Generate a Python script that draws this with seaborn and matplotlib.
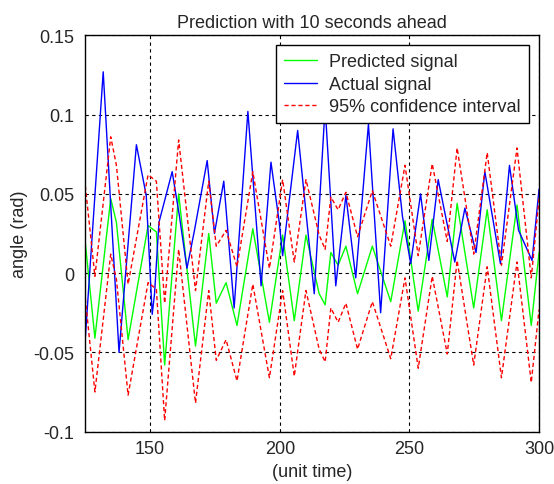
import matplotlib
matplotlib.use("Agg")
import matplotlib.pyplot as plt
import seaborn as sns

# values (peaks / troughs)
actual_t = [125, 131.9, 138, 144.7, 148.5, 150.8, 151.7, 153.4, 158.5, 161.3, 164.2, 167.1,
            172, 174.8, 178.4, 182.4, 187.7, 192.8, 196.6, 199.8, 201.1, 206.9, 213.3, 217.5,
            221.6, 225.5, 229.3, 234.2, 238.9, 243.7, 247.3, 250.5, 254.3, 257.5, 261.1, 267.5,
            271.4, 275.7, 279.1, 285.1, 288.6, 292.1, 297.3, 300]
actual = [-0.041, 0.127, -0.050, 0.081, 0.049, -0.026, -0.013, 0.032, 0.064, 0.036, 0.003, 0.027,
          0.071, 0.025, 0.058, -0.022, 0.102, -0.008, 0.070, 0.032, 0.011, 0.090, -0.013, 0.105,
          -0.008, 0.049, -0.003, 0.094, -0.025, 0.091, 0.036, 0.006, 0.050, 0.008, 0.059, 0.007,
          0.041, 0.013, 0.064, 0.006, 0.068, 0.027, 0.008, 0.053]

pred_t = [125, 128.7, 134.8, 137, 141.5, 149.2, 152.4, 155.6, 161, 167.5, 172.6, 175.5, 179.3,
          183.5, 189.6, 196, 201.1, 205.6, 210.1, 215.2, 217.5, 219.7, 222.5, 225.5, 230, 235.7,
          242.8, 248.3, 253.4, 258.8, 264.6, 268.4, 274.8, 280, 285.5, 291.5, 297, 300]
predicted = [0.019, -0.041, 0.047, 0.032, -0.042, 0.030, 0.026, -0.058, 0.050, -0.046, 0.025, -0.019,
             -0.006, -0.033, 0.028, -0.031, 0.024, -0.030, 0.024, -0.013, -0.020, 0.013, 0.005, 0.017,
             -0.013, 0.017, -0.018, 0.033, -0.024, 0.034, -0.015, 0.044, -0.022, 0.040, -0.030, 0.043,
             -0.033, 0.013]
ci_upper = [0.055, -0.002, 0.086, 0.068, -0.007, 0.062, 0.058, -0.019, 0.084, -0.011, 0.058, 0.017,
            0.027, 0.004, 0.064, 0.003, 0.059, 0.007, 0.059, 0.024, 0.015, 0.048, 0.040, 0.051,
            0.023, 0.052, 0.017, 0.068, 0.011, 0.069, 0.020, 0.079, 0.012, 0.076, 0.005, 0.079,
            -0.003, 0.047]
ci_lower = [-0.016, -0.075, 0.012, -0.004, -0.077, -0.006, -0.010, -0.093, 0.015, -0.082, -0.011, -0.055,
            -0.042, -0.068, -0.007, -0.066, -0.011, -0.065, -0.011, -0.048, -0.056, -0.022, -0.031, -0.019,
            -0.048, -0.018, -0.054, -0.003, -0.060, -0.002, -0.051, 0.008, -0.058, 0.004, -0.066, 0.007,
            -0.069, -0.023]

xticks = [150, 200, 250, 300]
yticks = [-0.1, -0.05, 0, 0.05, 0.1, 0.15]
ytick_labels = ["-0.1", "-0.05", "0", "0.05", "0.1", "0.15"]

sns.set_style("white")
plt.rcParams["font.family"] = ["Liberation Sans", "DejaVu Sans"]

fig = plt.figure(figsize=(5.54, 4.85), dpi=100)
ax = fig.add_axes([0.154, 0.108, 0.819, 0.817])

sns.lineplot(x=pred_t, y=predicted, color="#00ff00", lw=1.0, label="Predicted signal",
             estimator=None, ax=ax)
sns.lineplot(x=actual_t, y=actual, color="#0000ff", lw=1.0, label="Actual signal",
             estimator=None, ax=ax)
sns.lineplot(x=pred_t, y=ci_upper, color="#ff0000", lw=1.0, linestyle=(0, (3, 2)),
             label="95% confidence interval", estimator=None, ax=ax)
sns.lineplot(x=pred_t, y=ci_lower, color="#ff0000", lw=1.0, linestyle=(0, (3, 2)),
             estimator=None, ax=ax)

ax.set_xlim(125, 300)
ax.set_ylim(-0.1, 0.15)
ax.set_xticks(xticks)
ax.set_yticks(yticks)
ax.set_yticklabels(ytick_labels)
ax.grid(True, color="black", linestyle=(0, (3, 3)), linewidth=0.8)
ax.set_axisbelow(True)
for s in ax.spines.values():
    s.set_color("black")
    s.set_linewidth(1.0)
ax.tick_params(direction="in", length=4, width=0.8, color="black", labelsize=13)
ax.tick_params(axis="y", pad=8)
ax.tick_params(axis="x", pad=6)

ax.set_title("Prediction with 10 seconds ahead", fontsize=13)
ax.set_xlabel("(unit time)", fontsize=13)
ax.set_ylabel("angle (rad)", fontsize=13)

leg = ax.legend(loc="upper right", fontsize=13, frameon=True, fancybox=False,
                edgecolor="black", framealpha=1, borderaxespad=0.55,
                handlelength=1.8, handletextpad=0.7, labelspacing=0.3, borderpad=0.45)
leg.get_frame().set_linewidth(1.0)

fig.savefig("out.png", dpi=100)
